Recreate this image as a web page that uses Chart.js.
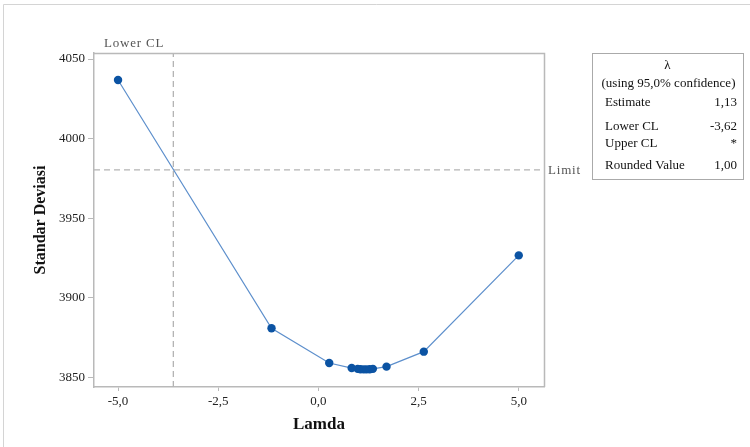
<!DOCTYPE html>
<html>
<head>
<meta charset="utf-8">
<script src="https://cdn.jsdelivr.net/npm/chart.js@4.4.1/dist/chart.umd.min.js"></script>
<style>
html,body{margin:0;padding:0;background:#fff;}
#wrap{width:750px;height:447px;position:relative;}
</style>
</head>
<body>
<div id="wrap"><canvas id="c" width="750" height="447"></canvas></div>
<script>
// ---- data ----
const lambdas = [-5.0, -1.17, 0.27, 0.83, 0.98, 1.05, 1.13, 1.20, 1.28, 1.36, 1.70, 2.63, 5.0];
const stdDevs = [4036.8, 3880.8, 3859.0, 3855.8, 3855.3, 3855.1, 3855.0, 3855.0, 3855.1, 3855.3, 3856.7, 3866.1, 3926.6];
const xTicks = [-5.0, -2.5, 0.0, 2.5, 5.0];
const yTicks = [3850, 3900, 3950, 4000, 4050];
const lowerCL = -3.62;
const limitValue = 3980.3;
const legendTitle = "λ";
const legendSub = "(using 95,0% confidence)";
const legendRows = [["Estimate", "1,13"], ["Lower CL", "-3,62"], ["Upper CL", "*"], ["Rounded Value", "1,00"]];
const xRange = [-5.6, 5.63];
const yRange = [3843.9, 4053.8];

const serif = "'Liberation Serif', 'DejaVu Serif', serif";
const fmt = v => v.toFixed(1).replace('.', ',');

const decor = {
  id: 'decor',
  beforeDraw(chart) {
    const ctx = chart.ctx;
    ctx.save();
    ctx.fillStyle = '#fff';
    ctx.fillRect(0, 0, chart.width, chart.height);
    ctx.strokeStyle = '#d4d4d4';
    ctx.lineWidth = 1;
    ctx.beginPath();
    ctx.moveTo(3.5, 447); ctx.lineTo(3.5, 4.5); ctx.lineTo(750, 4.5);
    ctx.stroke();
    ctx.restore();
  },
  afterDraw(chart) {
    const ctx = chart.ctx;
    const a = chart.chartArea;
    const ys = chart.scales.y;
    ctx.save();
    // frame top/right
    ctx.strokeStyle = '#b9b9b9';
    ctx.lineWidth = 1.5;
    ctx.beginPath();
    ctx.moveTo(a.left, a.top + 0.5); ctx.lineTo(a.right + 0.5, a.top + 0.5); ctx.lineTo(a.right + 0.5, a.bottom);
    ctx.stroke();
    // labels for reference lines
    ctx.fillStyle = '#555';
    ctx.font = '13px ' + serif;
    ctx.textBaseline = 'middle';
    ctx.textAlign = 'left';
    ctx.letterSpacing = '0.8px';
    ctx.fillText('Lower CL', 104, a.top - 9);
    ctx.fillText('Limit', a.right + 4, ys.getPixelForValue(limitValue) + 1);
    ctx.letterSpacing = '0px';
    // legend box
    const bx = 592, by = 53, bw = 151, bh = 126;
    ctx.strokeStyle = '#aaaaaa';
    ctx.lineWidth = 1;
    ctx.strokeRect(bx + 0.5, by + 0.5, bw, bh);
    ctx.fillStyle = '#111';
    ctx.font = '13px ' + serif;
    ctx.textAlign = 'center';
    ctx.fillText(legendTitle, bx + bw / 2, 66);
    ctx.fillText(legendSub, bx + bw / 2 + 1, 84);
    const rowY = [103, 127, 144, 166];
    legendRows.forEach((r, i) => {
      ctx.textAlign = 'left';
      ctx.fillText(r[0], 605, rowY[i]);
      ctx.textAlign = 'right';
      ctx.fillText(r[1], 737, rowY[i]);
    });
    ctx.restore();
  }
};

new Chart(document.getElementById('c'), {
  type: 'scatter',
  data: {
    datasets: [
      {
        label: 'StDev',
        data: lambdas.map((x, i) => ({ x: x, y: stdDevs[i] })),
        showLine: true,
        borderColor: '#5d8fcc',
        borderWidth: 1.2,
        pointBackgroundColor: '#0b53a3',
        pointBorderColor: '#0b53a3',
        pointRadius: 4.2,
        pointBorderWidth: 0,
        order: 1
      },
      {
        label: 'Lower CL',
        data: [{ x: lowerCL, y: yRange[0] }, { x: lowerCL, y: yRange[1] }],
        showLine: true,
        borderColor: '#b4b4b4',
        borderWidth: 1.3,
        borderDash: [6, 4],
        pointRadius: 0,
        order: 2
      },
      {
        label: 'Limit',
        data: [{ x: xRange[0], y: limitValue }, { x: xRange[1], y: limitValue }],
        showLine: true,
        borderColor: '#b4b4b4',
        borderWidth: 1.3,
        borderDash: [6, 4],
        pointRadius: 0,
        order: 3
      }
    ]
  },
  options: {
    responsive: false,
    animation: false,
    events: [],
    layout: { padding: { left: 0, top: 53, right: 206, bottom: 0 } },
    plugins: { legend: { display: false }, tooltip: { enabled: false } },
    scales: {
      x: {
        type: 'linear',
        min: xRange[0], max: xRange[1],
        afterBuildTicks: s => { s.ticks = xTicks.map(v => ({ value: v })); },
        afterFit: s => { s.height = 60; },
        ticks: { callback: v => fmt(v), font: { family: serif, size: 13 }, color: '#222', padding: 3, maxRotation: 0 },
        grid: { drawOnChartArea: false, drawTicks: true, tickLength: 4, color: '#b9b9b9', lineWidth: 1 },
        border: { display: true, color: '#b9b9b9', width: 1.5 },
        title: { display: true, text: 'Lamda', font: { family: serif, size: 17, weight: 'bold' }, color: '#111', padding: { top: 6, bottom: 12 } }
      },
      y: {
        type: 'linear',
        min: yRange[0], max: yRange[1],
        afterBuildTicks: s => { s.ticks = yTicks.map(v => ({ value: v })); },
        afterFit: s => { s.width = 94; },
        ticks: { callback: v => String(v), font: { family: serif, size: 13 }, color: '#222', padding: 3 },
        grid: { drawOnChartArea: false, drawTicks: true, tickLength: 6, color: '#b9b9b9', lineWidth: 1 },
        border: { display: true, color: '#b9b9b9', width: 1.5 },
        title: { display: true, text: 'Standar Deviasi', font: { family: serif, size: 16, weight: 'bold' }, color: '#111', padding: { top: 31, bottom: 0 } }
      }
    }
  },
  plugins: [decor]
});
</script>
</body>
</html>
